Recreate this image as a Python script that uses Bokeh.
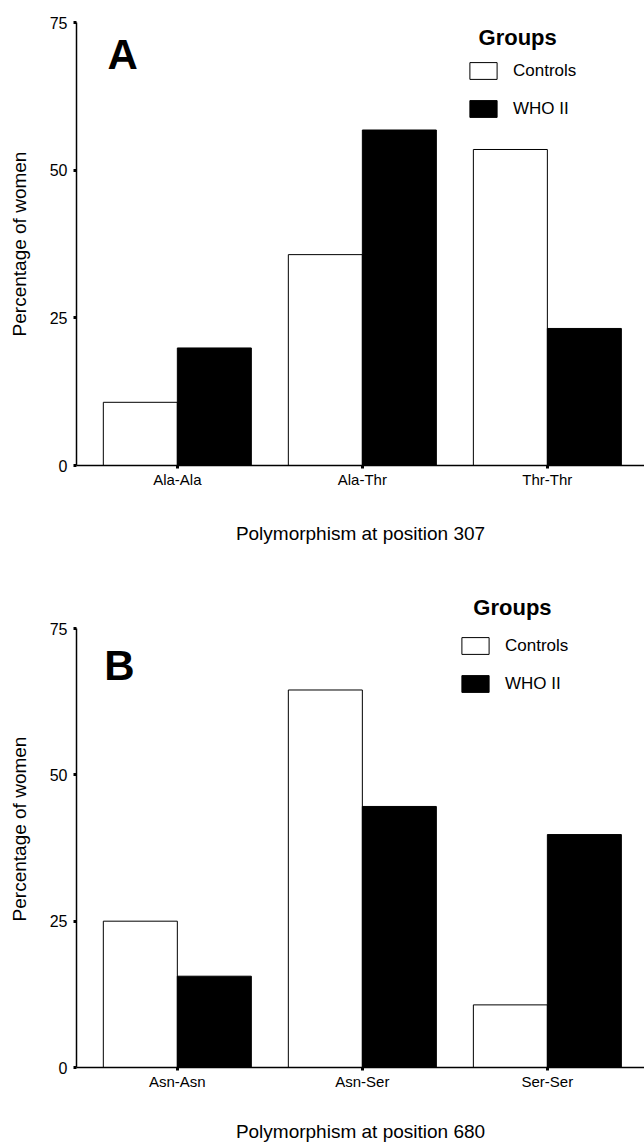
from bokeh.plotting import figure
from bokeh.models import Range1d, FixedTicker, Label, Legend, ColumnDataSource
from bokeh.transform import dodge
from bokeh.layouts import column
from bokeh.embed import file_html
from bokeh.resources import INLINE

# ---- data ----
genotypes_307 = ["Ala-Ala", "Ala-Thr", "Thr-Thr"]
controls_307 = [10.7, 35.7, 53.5]
who2_307 = [19.9, 56.8, 23.2]

genotypes_680 = ["Asn-Asn", "Asn-Ser", "Ser-Ser"]
controls_680 = [25.0, 64.5, 10.7]
who2_680 = [15.6, 44.6, 39.8]

group_names = ["Controls", "WHO II"]
legend_title = "Groups"
y_ticks = [0, 25, 50, 75]
y_title = "Percentage of women"
x_titles = ["Polymorphism at position 307", "Polymorphism at position 680"]
letters = ["A", "B"]

FONT = "Liberation Sans"
BAR_W = 0.4


def make_panel(genotypes, controls, who2, letter, xtitle, height, top_b, bottom_b,
               y_end, xlabel_standoff, legend_loc, letter_xy, title_xy):
    pos = list(range(1, len(genotypes) + 1))
    src = ColumnDataSource(dict(pos=pos, controls=controls, who2=who2))
    p = figure(width=644, height=height, output_backend="svg", toolbar_location=None,
               x_range=Range1d(0.455, 3.525), y_range=Range1d(0, y_end),
               min_border_left=76, min_border_right=0,
               min_border_top=top_b, min_border_bottom=bottom_b)
    p.outline_line_color = None
    p.grid.visible = False
    p.background_fill_color = "white"

    r1 = p.vbar(x=dodge("pos", -BAR_W / 2), top="controls", width=BAR_W, source=src,
                fill_color="white", line_color="black", line_width=1)
    r2 = p.vbar(x=dodge("pos", BAR_W / 2), top="who2", width=BAR_W, source=src,
                fill_color="black", line_color="black", line_width=1)

    for ax in (p.xaxis[0], p.yaxis[0]):
        ax.axis_line_width = 1.5
        ax.axis_line_color = "black"
        ax.major_tick_out = 3
        ax.major_tick_in = 0
        ax.major_tick_line_width = 3
        ax.minor_tick_out = 0
        ax.minor_tick_in = 0
        ax.axis_label_text_font = FONT
        ax.axis_label_text_font_style = "normal"
        ax.axis_label_text_font_size = "19px"
        ax.axis_label_text_color = "black"
        ax.major_label_text_color = "black"
        ax.major_label_text_font = FONT

    p.xaxis.ticker = FixedTicker(ticks=pos)
    p.xaxis.major_label_overrides = {i: g for i, g in zip(pos, genotypes)}
    p.xaxis.major_label_text_font_size = "15px"
    p.xaxis.major_label_standoff = 2
    p.xaxis.axis_label = xtitle
    p.xaxis.axis_label_standoff = xlabel_standoff

    p.yaxis.ticker = FixedTicker(ticks=y_ticks)
    p.yaxis.bounds = (0, 75)
    p.yaxis.major_label_text_font_size = "16px"
    p.yaxis.major_label_standoff = 6
    p.yaxis.axis_label = y_title
    p.yaxis.axis_label_standoff = 17

    legend = Legend(items=[(group_names[0], [r1]), (group_names[1], [r2])],
                    location=legend_loc,
                    label_text_font=FONT, label_text_font_size="17px",
                    label_text_color="black",
                    glyph_width=34, glyph_height=21, spacing=17, padding=0,
                    label_standoff=13, margin=0,
                    border_line_color=None, background_fill_alpha=0)
    p.add_layout(legend)

    p.add_layout(Label(x=title_xy[0], y=title_xy[1], text=legend_title,
                       text_font=FONT, text_font_style="bold", text_font_size="22px",
                       text_align="left", text_baseline="middle", text_color="black"))

    p.add_layout(Label(x=letter_xy[0], y=letter_xy[1], text=letter,
                       text_font=FONT, text_font_style="bold", text_font_size="42px",
                       text_align="center", text_baseline="middle", text_color="black"))
    return p


p1 = make_panel(genotypes_307, controls_307, who2_307, letters[0], x_titles[0],
                height=555, top_b=22, bottom_b=90, y_end=75, xlabel_standoff=32,
                legend_loc=(390, 346), letter_xy=(0.704, 69.6), title_xy=(2.628, 72.5))
p2 = make_panel(genotypes_680, controls_680, who2_680, letters[1], x_titles[1],
                height=589, top_b=35, bottom_b=75, y_end=81.5, xlabel_standoff=28,
                legend_loc=(382, 373), letter_xy=(0.687, 68.7), title_xy=(2.60, 78.6))

layout = column(p1, p2)
open("out.html", "w").write(file_html(layout, INLINE))
